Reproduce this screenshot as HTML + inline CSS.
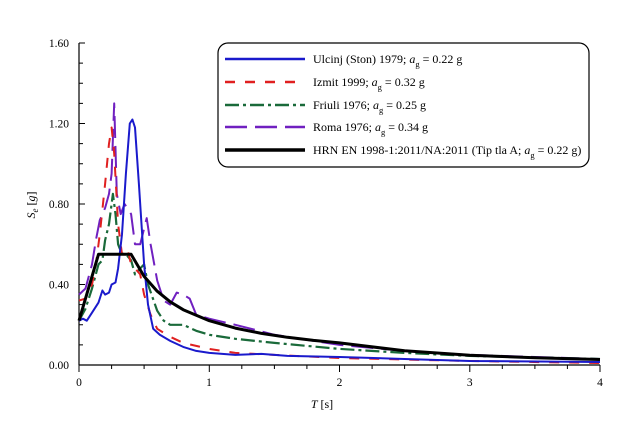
<!DOCTYPE html>
<html><head><meta charset="utf-8"><style>
html,body{margin:0;padding:0;background:#fff;}
svg{display:block;font-family:"Liberation Serif",serif;}
</style></head><body>
<svg width="640" height="425" viewBox="0 0 640 425" xmlns="http://www.w3.org/2000/svg">
<g stroke="#000" stroke-width="1.2" fill="none">
<line x1="79" y1="43" x2="79" y2="365"/>
<line x1="79" y1="365" x2="600" y2="365"/>
</g>
<path stroke="#000" stroke-width="1" fill="none" d="M79 365h6M79 344.9h4M79 324.8h4M79 304.6h4M79 284.5h6M79 264.4h4M79 244.3h4M79 224.1h4M79 204h6M79 183.9h4M79 163.8h4M79 143.6h4M79 123.5h6M79 103.4h4M79 83.3h4M79 63.1h4M79 43h6
M79 365v7M111.6 365v4M144.1 365v4M176.7 365v4M209.3 365v7M241.8 365v4M274.4 365v4M306.9 365v4M339.5 365v7M372.1 365v4M404.6 365v4M437.2 365v4M469.8 365v7M502.3 365v4M534.9 365v4M567.4 365v4M600 365v7"/>
<g font-size="11.5" fill="#000" text-anchor="end">
<text x="69" y="369">0.00</text>
<text x="69" y="288.5">0.40</text>
<text x="69" y="208">0.80</text>
<text x="69" y="127.5">1.20</text>
<text x="69" y="47">1.60</text>
</g>
<g font-size="11.5" fill="#000" text-anchor="middle">
<text x="79" y="386">0</text>
<text x="209" y="386">1</text>
<text x="339.5" y="386">2</text>
<text x="469.7" y="386">3</text>
<text x="600" y="386">4</text>
</g>
<text x="322" y="408" font-size="12" text-anchor="middle"><tspan font-style="italic">T</tspan> [s]</text>
<text transform="translate(35,205) rotate(-90)" font-size="12" text-anchor="middle"><tspan font-style="italic">S</tspan><tspan font-style="italic" font-size="9" dy="3">e</tspan><tspan dy="-3"> [</tspan><tspan font-style="italic">g</tspan>]</text>
<g fill="none" stroke-linejoin="round">
<polyline stroke="#7020c0" stroke-width="2" stroke-dasharray="22,8" points="79,294.6 85.5,288.5 92,264.4 95.9,240.2 99.8,220.1 105.1,208 109,193.9 111.6,173.8 114.2,103.4 116.8,193.9 120.7,214.1 124.6,204 131.1,214.1 135,244.3 140.2,244.3 146.7,218.1 150.6,244.3 157.2,280.5 163.7,300.6 170.2,304.6 176.7,292.6 183.2,294.6 189.7,298.6 196.2,314.7 209.3,318.7 235.3,324.8 274.4,334.8 339.5,344.9 404.6,350.9 469.8,354.9 600,359"/>
<polyline stroke="#1a6a3a" stroke-width="2.2" stroke-dasharray="14,4,3,4" points="79,320.7 85.5,308.7 92,288.5 98.5,264.4 102.4,260.3 105.1,240.2 109,224.1 112.9,193.9 115.5,214.1 118.1,244.3 122,254.3 125.9,254.3 131.1,260.3 135,274.4 140.2,268.4 144.1,264.4 148,284.5 157.2,310.7 163.7,320.7 170.2,324.8 183.2,324.8 196.2,330.8 209.3,334.8 235.3,338.8 274.4,342.9 339.5,348.9 404.6,352.9 469.8,355.9 600,359"/>
<polyline stroke="#e02020" stroke-width="2" stroke-dasharray="10,10" points="79,300.6 85.5,298.6 92,284.5 95.9,264.4 99.8,234.2 105.1,183.9 109,143.6 111.6,127.5 114.2,153.7 118.1,224.1 122,254.3 127.2,248.3 131.1,264.4 135,268.4 140.2,274.4 144.1,294.6 150.6,314.7 157.2,328.8 170.2,336.8 183.2,342.9 209.3,348.9 235.3,352.9 274.4,354.9 339.5,358 469.8,361 600,363"/>
<polyline stroke="#1a1acc" stroke-width="2" points="79,320.7 82.9,318.7 86.8,320.7 92,312.7 98.5,302.6 102.4,290.5 105.1,294.6 109,292.6 111.6,284.5 115.5,282.5 118.1,268.4 122,234.2 125.9,173.8 129.8,123.5 132.4,119.5 135,127.5 138.9,183.9 144.1,264.4 148,304.6 153.2,328.8 159.8,334.8 170.2,340.9 183.2,346.9 196.2,350.9 209.3,352.9 235.3,354.9 261.4,353.9 287.4,355.9 339.5,357 404.6,359 469.8,361 600,362"/>
<polyline stroke="#000" stroke-width="3" points="79,320.7 98.5,254.3 131.1,254.3 144.1,276.4 157.2,291.2 170.2,301.8 183.2,309.7 209.3,320.7 235.3,328.1 261.4,333.4 287.4,337.3 313.5,340.4 339.5,342.9 404.6,350.8 469.8,355.2 534.9,357.8 600,359.5"/>
</g>
<rect x="218" y="43" width="371" height="124" rx="10" ry="10" fill="#fff" stroke="#000" stroke-width="1.2"/>
<g stroke-width="2.5">
<line x1="225" y1="59" x2="305" y2="59" stroke="#1a1acc"/>
<line x1="225" y1="82" x2="305" y2="82" stroke="#e02020" stroke-dasharray="10,10"/>
<line x1="225" y1="105" x2="305" y2="105" stroke="#1a6a3a" stroke-dasharray="14,4,3,4"/>
<line x1="225" y1="127" x2="305" y2="127" stroke="#7020c0" stroke-dasharray="22,8"/>
<line x1="225" y1="150" x2="305" y2="150" stroke="#000" stroke-width="3.5"/>
</g>
<g font-size="12" fill="#000">
<text x="313" y="63">Ulcinj (Ston) 1979; <tspan font-style="italic">a</tspan><tspan font-size="8.5" dy="4">g</tspan><tspan dy="-4"> = 0.22 g</tspan></text>
<text x="313" y="86">Izmit 1999; <tspan font-style="italic">a</tspan><tspan font-size="8.5" dy="4">g</tspan><tspan dy="-4"> = 0.32 g</tspan></text>
<text x="313" y="109">Friuli 1976; <tspan font-style="italic">a</tspan><tspan font-size="8.5" dy="4">g</tspan><tspan dy="-4"> = 0.25 g</tspan></text>
<text x="313" y="131">Roma 1976; <tspan font-style="italic">a</tspan><tspan font-size="8.5" dy="4">g</tspan><tspan dy="-4"> = 0.34 g</tspan></text>
<text x="313" y="154">HRN EN 1998-1:2011/NA:2011 (Tip tla A; <tspan font-style="italic">a</tspan><tspan font-size="8.5" dy="4">g</tspan><tspan dy="-4"> = 0.22 g)</tspan></text>
</g>
</svg>
</body></html>
